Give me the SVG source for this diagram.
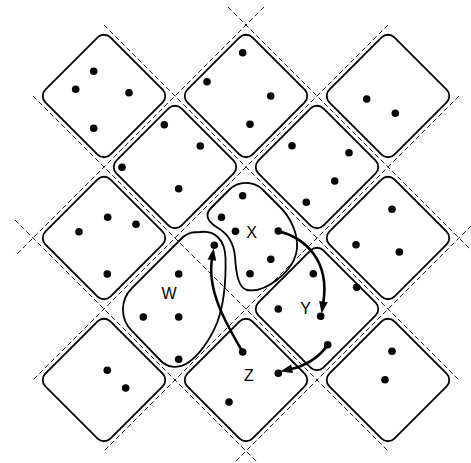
<svg xmlns="http://www.w3.org/2000/svg" width="471" height="463" viewBox="0 0 471 463">
<defs>
<style>
.grid line{stroke:#000;stroke-width:0.9;stroke-dasharray:5 3;fill:none}
.blob{fill:none;stroke:#000;stroke-width:1.8}
circle{fill:#000}
.arrow{fill:none;stroke:#000;stroke-width:2.6;stroke-linecap:round;marker-end:url(#ah)}
text{font-family:"Liberation Sans",Arial,sans-serif;font-size:16px;text-anchor:middle;fill:#000}
</style>
<path id="cell" fill="none" stroke="#000" stroke-width="1.8" d="M -6.364,-58.636 A 9 9 0 0 1 6.364,-58.636 L 58.636,-6.364 A 9 9 0 0 1 58.636,6.364 L 6.364,58.636 A 9 9 0 0 1 -6.364,58.636 L -58.636,6.364 A 9 9 0 0 1 -58.636,-6.364 Z"/>
<marker id="ah" markerUnits="userSpaceOnUse" markerWidth="12" markerHeight="10" viewBox="0 0 11 8" refX="1" refY="4" orient="auto" overflow="visible">
<path d="M0,0 L11,4 L0,8 Z" fill="#000"/>
</marker>
</defs>

<g id="grid" class="grid">
<line x1="264" y1="7" x2="15" y2="256"/>
<line x1="388" y1="25" x2="33" y2="380"/>
<line x1="459" y1="96" x2="104" y2="451"/>
<line x1="477" y1="220" x2="228" y2="469"/>
<line x1="228" y1="7" x2="477" y2="256"/>
<line x1="104" y1="25" x2="459" y2="380"/>
<line x1="33" y1="96" x2="388" y2="451"/>
<line x1="15" y1="220" x2="264" y2="469"/>
</g>

<g id="cell-0-2"><use href="#cell" x="104" y="96"/>
<circle cx="93.7" cy="71.3" r="3.8"/><circle cx="75.7" cy="89.3" r="3.8"/><circle cx="129" cy="92.7" r="3.8"/><circle cx="93.7" cy="128.3" r="3.8"/></g>
<g id="cell-1-1"><use href="#cell" x="246" y="96"/>
<circle cx="242.7" cy="52.7" r="3.8"/><circle cx="207" cy="81.7" r="3.8"/><circle cx="270.7" cy="96" r="3.8"/><circle cx="250" cy="124.3" r="3.8"/></g>
<g id="cell-2-0"><use href="#cell" x="388" y="96"/>
<circle cx="366.7" cy="99" r="3.8"/><circle cx="395.3" cy="113.3" r="3.8"/></g>
<g id="cell-1-2"><use href="#cell" x="175" y="167"/>
<circle cx="164.3" cy="124.7" r="3.8"/><circle cx="200.3" cy="146" r="3.8"/><circle cx="122" cy="167.3" r="3.8"/><circle cx="178.7" cy="188.7" r="3.8"/></g>
<g id="cell-2-1"><use href="#cell" x="317" y="167"/>
<circle cx="292" cy="145.7" r="3.8"/><circle cx="349" cy="152.7" r="3.8"/><circle cx="334.7" cy="181" r="3.8"/><circle cx="306.3" cy="202.3" r="3.8"/></g>
<g id="cell-1-3"><use href="#cell" x="104" y="238"/>
<circle cx="107.7" cy="217.3" r="3.8"/><circle cx="136" cy="224.3" r="3.8"/><circle cx="79" cy="231.7" r="3.8"/><circle cx="107.3" cy="274" r="3.8"/></g>
<g id="cell-3-1"><use href="#cell" x="388" y="238"/>
<circle cx="392" cy="209.3" r="3.8"/><circle cx="356" cy="244.7" r="3.8"/><circle cx="399.3" cy="252" r="3.8"/></g>
<g id="cell-2-4"><use href="#cell" x="104" y="380"/>
<circle cx="107.3" cy="370.3" r="3.8"/><circle cx="125.7" cy="388" r="3.8"/></g>
<g id="cell-4-2"><use href="#cell" x="388" y="380"/>
<circle cx="392" cy="351.3" r="3.8"/><circle cx="385" cy="379.7" r="3.8"/></g>

<g id="node-X">
<path class="blob" d="M 229,190 A 24 24 0 0 1 263,190 L 280,207 C 291,218 298,234 297,248 C 296,260 288,271 278,279 C 268,287 257,292 247,290 C 238,288 236,272 235,257 C 234,243 228,234 218,228 C 208,222 204,215 211,208 Z"/>
<circle cx="242.7" cy="195.7" r="3.8"/><circle cx="221.5" cy="217.3" r="3.8"/><circle cx="235.5" cy="231.2" r="3.8"/><circle cx="278.3" cy="231" r="3.8"/><circle cx="270.8" cy="259.3" r="3.8"/><circle cx="250" cy="273.8" r="3.8"/>
<text x="251.7" y="238.3">X</text>
</g>
<g id="node-W">
<path class="blob" d="M 200,232 C 215,230 225,240 225.5,258 C 226,280 225,302 217,323 C 210,340 198,357 186,364 C 177,369 167,367 161,361 L 131.7,330.7 A 30 30 0 0 1 131.7,288.3 L 183,237 C 189,232 194,232 200,232 Z"/>
<circle cx="214.3" cy="245.3" r="3.8"/><circle cx="178.7" cy="274" r="3.8"/><circle cx="143.3" cy="317" r="3.8"/><circle cx="178.7" cy="317" r="3.8"/><circle cx="178.7" cy="359.3" r="3.8"/>
<text x="169" y="299">W</text>
</g>
<g id="node-Y"><use href="#cell" x="317" y="309"/>
<circle cx="313.3" cy="273.7" r="3.8"/><circle cx="356.7" cy="287.3" r="3.8"/><circle cx="278.3" cy="309" r="3.8"/><circle cx="320.7" cy="316.3" r="3.8"/><circle cx="327.7" cy="344.7" r="3.8"/>
<text x="305.5" y="313.5">Y</text>
</g>
<g id="node-Z"><use href="#cell" x="246" y="380"/>
<circle cx="242.7" cy="352" r="3.8"/><circle cx="278.3" cy="373.3" r="3.8"/><circle cx="229" cy="402" r="3.8"/>
<text x="249" y="381">Z</text>
</g>

<g id="connectors">
<path class="arrow" d="M 242.7,352 C 225,322 207,290 212,259"/>
<path class="arrow" d="M 278.3,231 C 305,238 330,260 323.3,302.7"/>
<path class="arrow" d="M 327.7,344.7 C 320,357 305,366 291,369.1"/>
</g>
</svg>
